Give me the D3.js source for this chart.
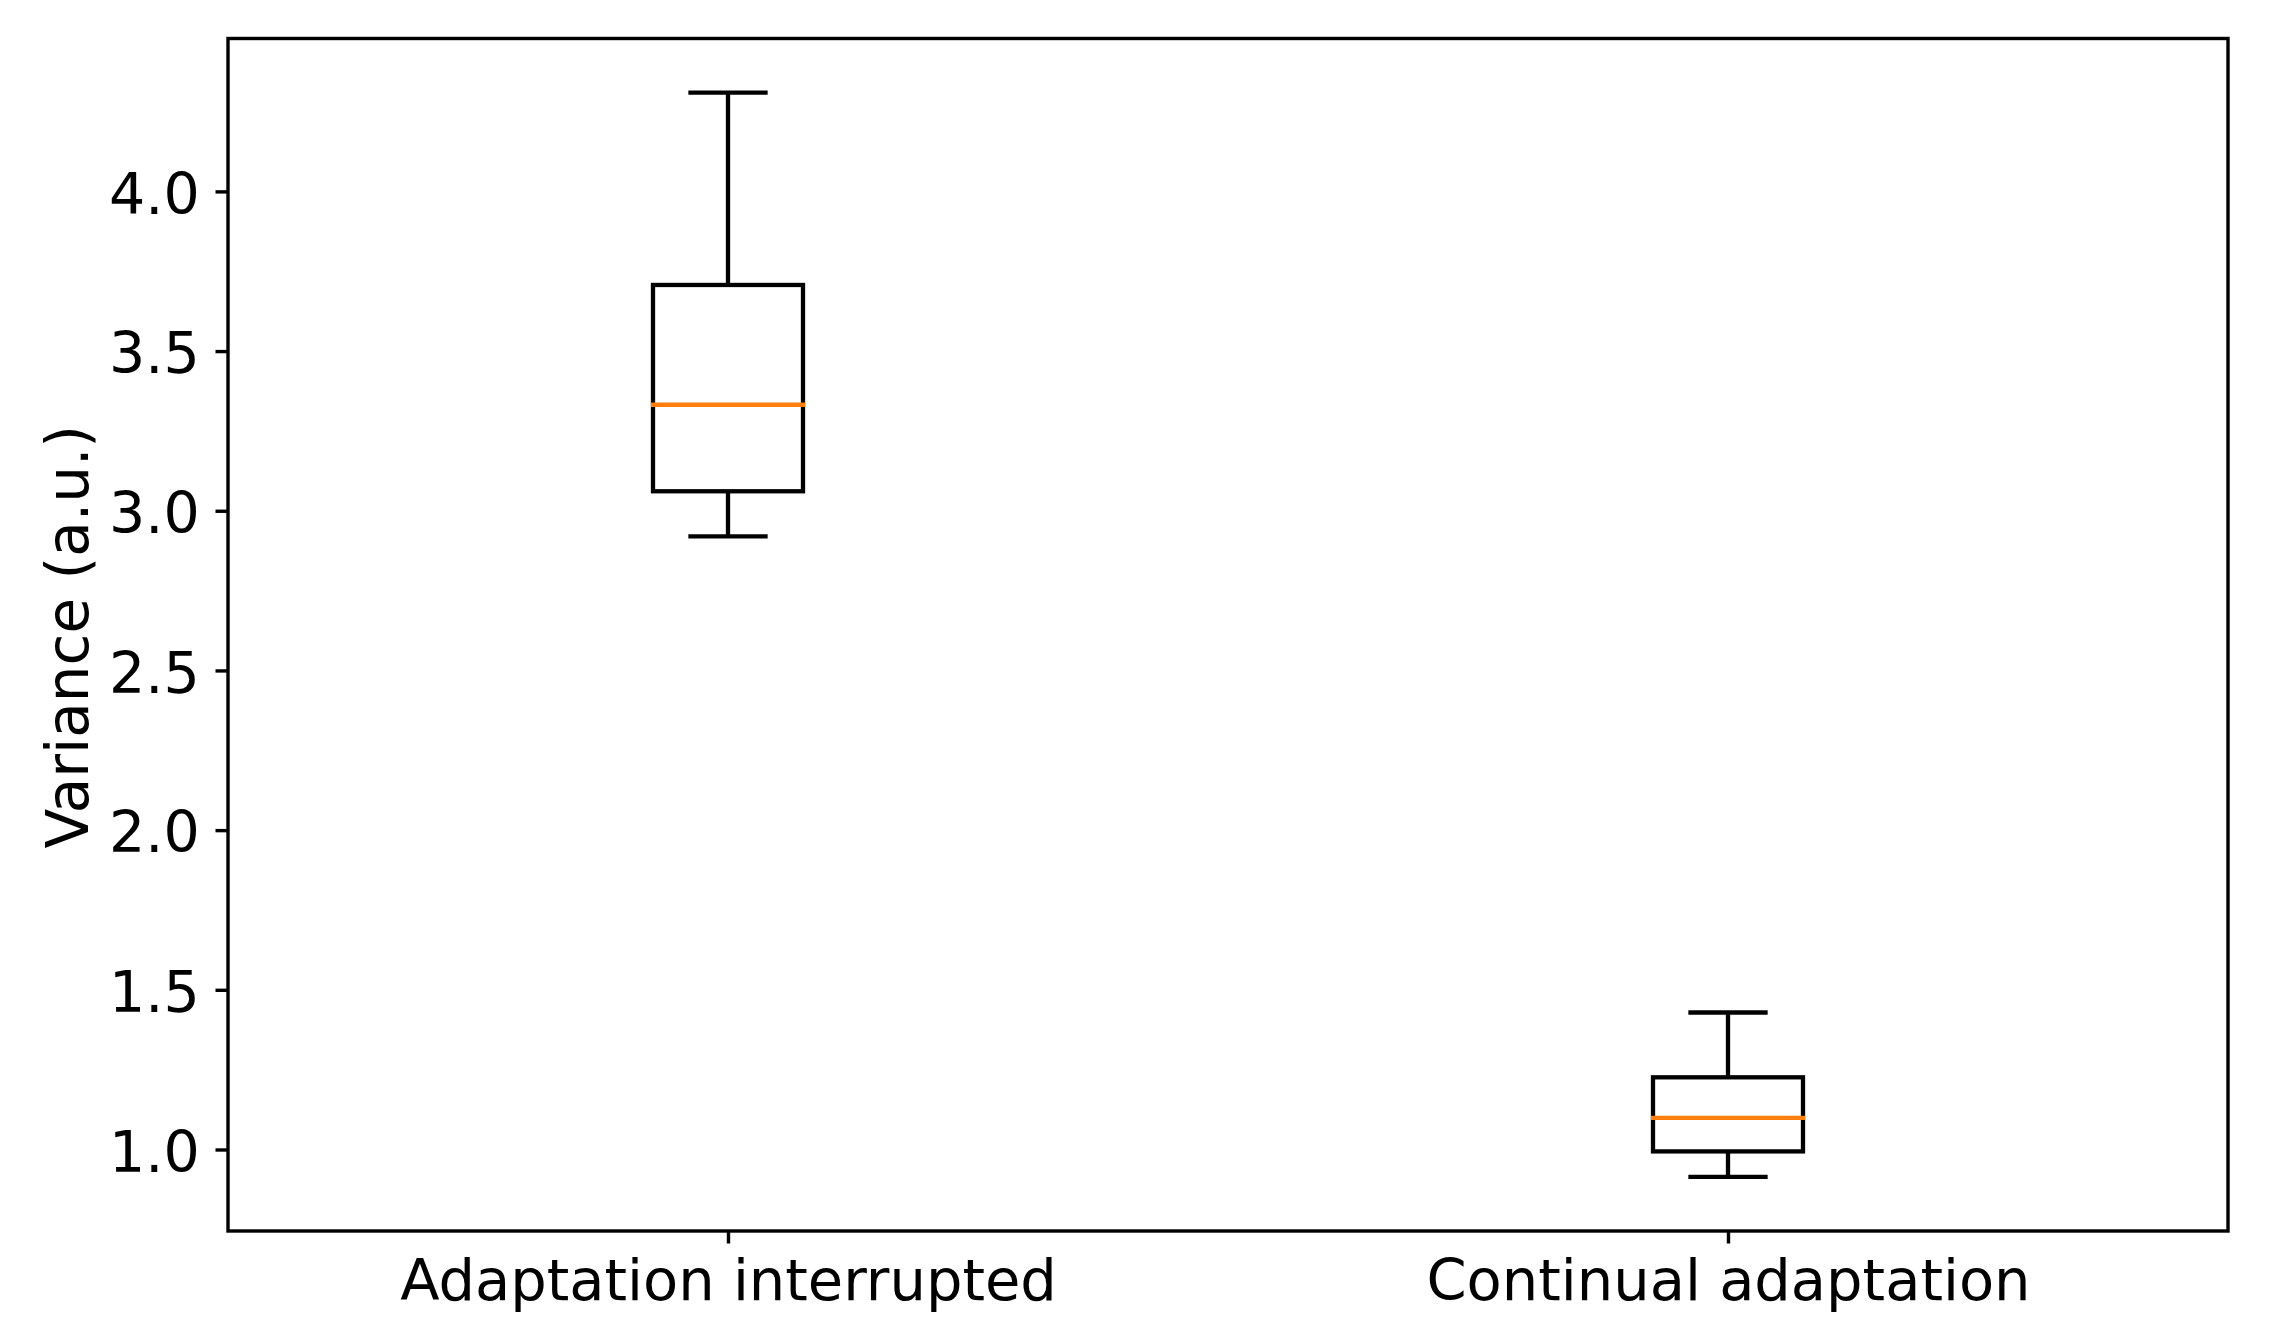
<!DOCTYPE html>
<html>
<head>
<meta charset="utf-8">
<script src="https://cdn.jsdelivr.net/npm/d3@7"></script>
<style>
  html, body { margin: 0; padding: 0; background: #fff; }
  svg { display: block; }
  text { font-family: "DejaVu Sans", sans-serif; fill: #000; }
</style>
</head>
<body>
<svg id="chart" width="2282" height="1342"></svg>
<script>
// ---- data ----
const categories   = ["Adaptation interrupted", "Continual adaptation"];
const whiskerLow   = [2.920, 0.9145];
const quartile1    = [3.061, 0.994];
const medians      = [3.332, 1.099];
const quartile3    = [3.707, 1.226];
const whiskerHigh  = [4.309, 1.429];
const yTickValues  = [1.0, 1.5, 2.0, 2.5, 3.0, 3.5, 4.0];
const yLabel       = "Variance (a.u.)";

// ---- layout ----
const plotLeft = 228, plotRight = 2228, plotTop = 38.5, plotBottom = 1231;
const fontPx = 57.5;
const spineW = 3.4, boxW = 4.3;

const svg = d3.select("#chart");

const positions = categories.map((c, i) => i + 1);
const x = d3.scaleLinear().domain([0.5, categories.length + 0.5]).range([plotLeft, plotRight]);

const lo = d3.min(whiskerLow), hi = d3.max(whiskerHigh);
const pad = (hi - lo) * 0.05;
const y = d3.scaleLinear().domain([lo - pad, hi + pad]).range([plotBottom, plotTop]);

const boxes = categories.map((c, i) => ({
  name: c, pos: positions[i],
  wl: whiskerLow[i], q1: quartile1[i], med: medians[i], q3: quartile3[i], wh: whiskerHigh[i]
}));

const halfBox = 0.075, halfCap = 0.0375;

const g = svg.append("g");

// whiskers
g.selectAll(".whisker-lo").data(boxes).join("line")
  .attr("x1", d => x(d.pos)).attr("x2", d => x(d.pos))
  .attr("y1", d => y(d.q1)).attr("y2", d => y(d.wl))
  .attr("stroke", "#000").attr("stroke-width", boxW);
g.selectAll(".whisker-hi").data(boxes).join("line")
  .attr("x1", d => x(d.pos)).attr("x2", d => x(d.pos))
  .attr("y1", d => y(d.q3)).attr("y2", d => y(d.wh))
  .attr("stroke", "#000").attr("stroke-width", boxW);
// caps
["wl", "wh"].forEach(k => {
  g.selectAll(".cap-" + k).data(boxes).join("line")
    .attr("x1", d => x(d.pos - halfCap)).attr("x2", d => x(d.pos + halfCap))
    .attr("y1", d => y(d[k])).attr("y2", d => y(d[k]))
    .attr("stroke", "#000").attr("stroke-width", boxW).attr("stroke-linecap", "square");
});
// boxes
g.selectAll(".box").data(boxes).join("rect")
  .attr("x", d => x(d.pos - halfBox))
  .attr("width", d => x(d.pos + halfBox) - x(d.pos - halfBox))
  .attr("y", d => y(d.q3))
  .attr("height", d => y(d.q1) - y(d.q3))
  .attr("fill", "none").attr("stroke", "#000").attr("stroke-width", boxW)
  .attr("stroke-linejoin", "miter");
// medians
g.selectAll(".median").data(boxes).join("line")
  .attr("x1", d => x(d.pos - halfBox)).attr("x2", d => x(d.pos + halfBox))
  .attr("y1", d => y(d.med)).attr("y2", d => y(d.med))
  .attr("stroke", "#ff7f0e").attr("stroke-width", boxW).attr("stroke-linecap", "square");

// axes
const yAxis = d3.axisLeft(y).tickValues(yTickValues).tickFormat(d3.format(".1f"))
  .tickSize(12.5).tickSizeOuter(0).tickPadding(15.8);
const ya = svg.append("g").attr("transform", `translate(${plotLeft},0)`).call(yAxis);
ya.select(".domain").remove();
ya.selectAll(".tick line").attr("stroke", "#000").attr("stroke-width", spineW);
ya.selectAll(".tick text").attr("font-size", 57).attr("font-family", "DejaVu Sans")
  .attr("dy", "0.38em").attr("fill", "#000");

const xAxis = d3.axisBottom(x).tickValues(positions).tickFormat((d, i) => categories[i])
  .tickSize(12.5).tickSizeOuter(0);
const xa = svg.append("g").attr("transform", `translate(0,${plotBottom})`).call(xAxis);
xa.select(".domain").remove();
xa.selectAll(".tick line").attr("stroke", "#000").attr("stroke-width", spineW);
xa.selectAll(".tick text").attr("font-size", fontPx).attr("font-family", "DejaVu Sans")
  .attr("y", 69).attr("dy", 0).attr("fill", "#000");

// frame (spines)
svg.append("rect")
  .attr("x", plotLeft).attr("y", plotTop)
  .attr("width", plotRight - plotLeft).attr("height", plotBottom - plotTop)
  .attr("fill", "none").attr("stroke", "#000").attr("stroke-width", spineW)
  .attr("stroke-linejoin", "miter");

// y label
svg.append("text")
  .attr("transform", `translate(88,${(plotTop + plotBottom) / 2 + 2}) rotate(-90)`)
  .attr("text-anchor", "middle")
  .attr("font-size", 58)
  .text(yLabel);
</script>
</body>
</html>
